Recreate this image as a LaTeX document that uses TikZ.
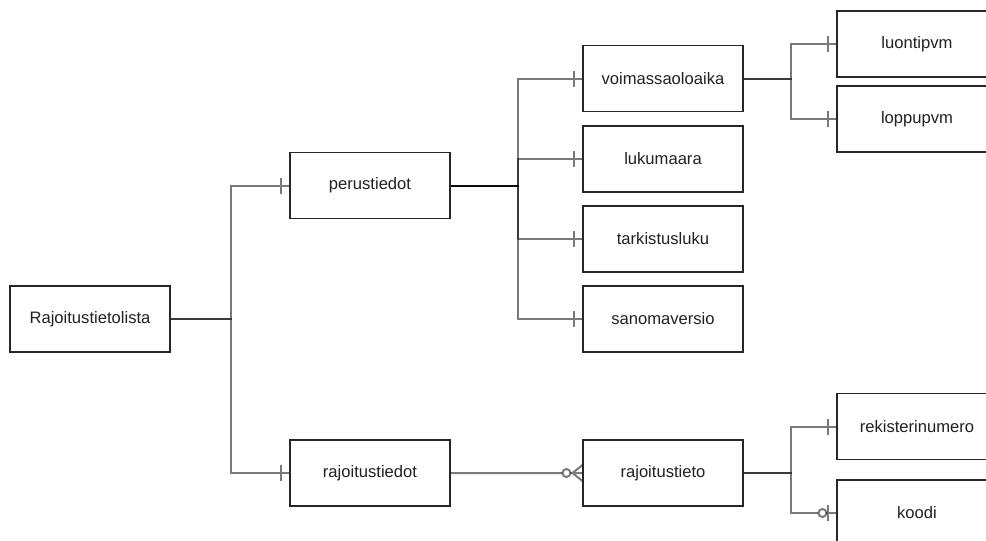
\documentclass[tikz,border=0pt]{standalone}
\usepackage{fontspec}
\setmainfont{Liberation Sans}
\begin{document}
\begin{tikzpicture}[x=1pt,y=-1pt,
  ent/.style={draw=black!85, line width=1.1pt, fill=white, minimum width=160pt, minimum height=66pt,
    inner sep=0pt, font=\fontsize{16.6}{19}\selectfont, text=black!87},
  edge/.style={draw=black, draw opacity=0.52, line width=2pt}]
\useasboundingbox (0,0) rectangle (986,541);
\clip (0,0) rectangle (986,541);
\fill[white] (0,0) rectangle (986,541);
% entities
\node[ent] (root) at (90,319) {Rajoitustietolista};
\node[ent] (perus) at (370,185.5) {perustiedot};
\node[ent] (rajot) at (370,473) {rajoitustiedot};
\node[ent] (voima) at (663,78.5) {voimassaoloaika};
\node[ent] (luku) at (663,159) {lukumaara};
\node[ent] (tark) at (663,239) {tarkistusluku};
\node[ent] (sano) at (663,319) {sanomaversio};
\node[ent] (rajo) at (663,473) {rajoitustieto};
\node[ent] (luon) at (917,44) {luontipvm};
\node[ent] (lopp) at (917,119) {loppupvm};
\node[ent] (reki) at (917,426.5) {rekisterinumero};
\node[ent] (kood) at (917,513) {koodi};
% edges with one-only ticks
\foreach \p/\c/\d in {root/perus/60, root/rajot/60, perus/voima/67, perus/luku/67, perus/tark/67, perus/sano/67,
                      voima/luon/47, voima/lopp/47, rajo/reki/47}{
  \draw[edge] (\p.east) -- ++(\d,0) |- (\c.west)
    ([xshift=-8pt]\c.west) +(0,-8) -- +(0,8);
}
% rajoitustiedot -> rajoitustieto (zero or many)
\draw[edge] (rajot.east) -- ([xshift=-20pt]rajo.west)
  ([xshift=-12pt]rajo.west) -- (rajo.west)
  ([xshift=-10pt]rajo.west) -- ([yshift=-8pt]rajo.west)
  ([xshift=-10pt]rajo.west) -- ([yshift=8pt]rajo.west);
\draw[edge] ([xshift=-16pt]rajo.west) circle[radius=4];
% rajoitustieto -> koodi (zero or one)
\draw[edge] (rajo.east) -- ++(47,0) |- ([xshift=-18pt]kood.west)
  ([xshift=-10pt]kood.west) -- (kood.west)
  ([xshift=-8pt]kood.west) +(0,-8) -- +(0,8);
\draw[edge] ([xshift=-14pt]kood.west) circle[radius=4];
\end{tikzpicture}
\end{document}
